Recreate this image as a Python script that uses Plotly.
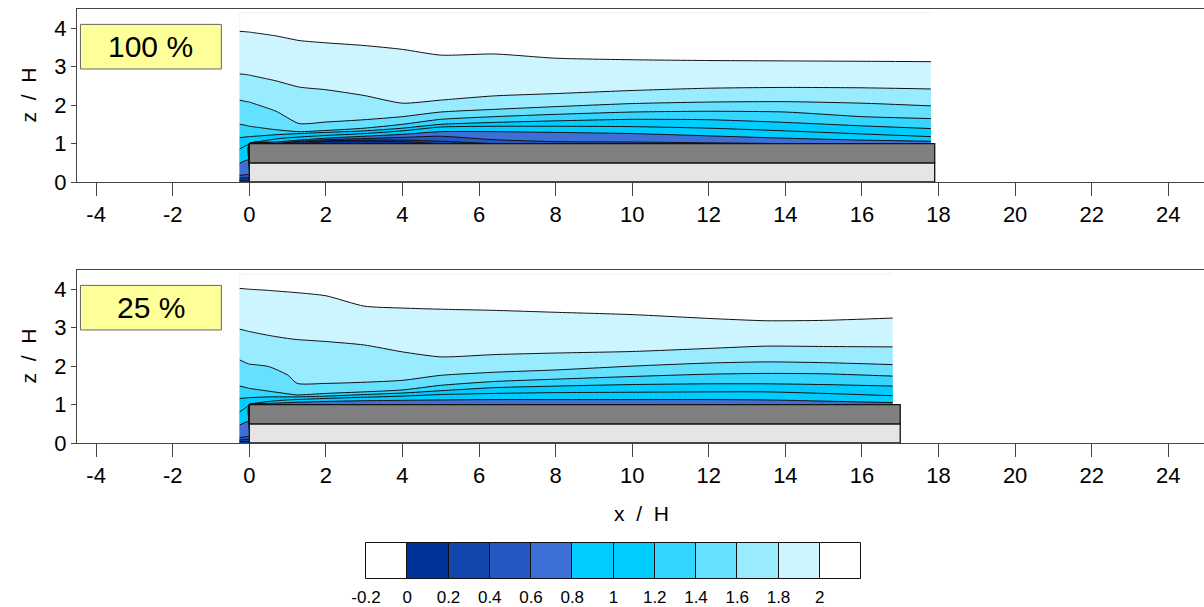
import plotly.graph_objects as go

# ---------------- data ----------------
# contour levels (upper bound of each colour band)
LEVELS = [2.0, 1.8, 1.6, 1.4, 1.2, 1.0, 0.8, 0.6, 0.4, 0.2]
# colour-bar bins (lower edges) and labels
CB_EDGES = [-0.2, 0.0, 0.2, 0.4, 0.6, 0.8, 1.0, 1.2, 1.4, 1.6, 1.8, 2.0, 2.2]
CB_LABELS = ["-0.2", "0", "0.2", "0.4", "0.6", "0.8", "1", "1.2", "1.4", "1.6", "1.8", "2"]

X_TICKS = [-4, -2, 0, 2, 4, 6, 8, 10, 12, 14, 16, 18, 20, 22, 24]
X_TICKTEXT = ["-4", "-2", "0", "2", "4", "6", "8", "10", "12", "14", "16", "18", "20", "22", "24"]
Z_TICKS = [0, 1, 2, 3, 4]

PANEL_LABELS = ["100 %", "25 %"]
BUILDING_LENGTH = [17.9, 17.0]
BUILDING_HEIGHT = 1.0
BASE_HEIGHT = 0.5
DOMAIN_TOP = 4.4

# ---- panel 1 (100 %): heights z/H of each iso-line at the x stations ----
X_100 = [-0.25, -0.12, 0.0, 0.0, 0.7, 1.3, 2.0, 3.0, 4.0, 5.0, 6.4, 8.0, 10.0, 12.0, 14.0, 16.0, 17.8]
Z100_L20 = [3.92, 3.91, 3.90, 3.90, 3.80, 3.68, 3.62, 3.55, 3.45, 3.30, 3.33, 3.22, 3.18, 3.16, 3.15, 3.14, 3.13]
Z100_L18 = [2.81, 2.80, 2.78, 2.78, 2.63, 2.47, 2.40, 2.25, 2.05, 2.13, 2.24, 2.30, 2.38, 2.44, 2.46, 2.45, 2.42]
Z100_L16 = [2.13, 2.10, 2.08, 2.08, 1.84, 1.52, 1.56, 1.62, 1.70, 1.82, 1.89, 1.96, 2.04, 2.08, 2.09, 2.05, 1.98]
Z100_L14 = [1.50, 1.48, 1.45, 1.45, 1.36, 1.31, 1.34, 1.40, 1.50, 1.63, 1.70, 1.76, 1.82, 1.84, 1.82, 1.70, 1.65]
Z100_L12 = [1.15, 1.17, 1.18, 1.18, 1.23, 1.26, 1.29, 1.33, 1.40, 1.50, 1.55, 1.59, 1.63, 1.62, 1.55, 1.46, 1.39]
Z100_L10 = [0.86, 0.93, 0.99, 1.00, 1.12, 1.17, 1.21, 1.26, 1.33, 1.43, 1.45, 1.45, 1.44, 1.40, 1.33, 1.25, 1.18]
Z100_L08 = [0.49, 0.55, 0.60, 1.00, 1.04, 1.09, 1.14, 1.19, 1.24, 1.31, 1.31, 1.29, 1.26, 1.20, 1.14, 1.09, 1.06]
Z100_L06 = [0.17, 0.19, 0.21, 1.00, 1.00, 1.06, 1.10, 1.13, 1.16, 1.19, 1.10, 1.05, 1.04, 1.02, 1.00, 1.00, 1.00]
Z100_L04 = [0.10, 0.11, 0.12, 1.00, 1.00, 1.04, 1.07, 1.09, 1.09, 1.06, 1.00, 1.00, 1.00, 1.00, 1.00, 1.00, 1.00]
Z100_L02 = [0.05, 0.05, 0.06, 1.00, 1.00, 1.00, 1.05, 1.07, 1.05, 1.00, 1.00, 1.00, 1.00, 1.00, 1.00, 1.00, 1.00]

# ---- panel 2 (25 %) ----
X_25 = [-0.25, -0.12, 0.0, 0.0, 0.5, 1.0, 1.25, 2.0, 3.0, 4.0, 5.0, 6.4, 8.0, 10.0, 12.0, 13.5, 15.0, 16.8]
Z25_L20 = [4.02, 4.01, 4.00, 4.00, 3.97, 3.93, 3.91, 3.83, 3.56, 3.51, 3.48, 3.45, 3.40, 3.34, 3.24, 3.18, 3.19, 3.25]
Z25_L18 = [2.96, 2.93, 2.90, 2.90, 2.80, 2.72, 2.69, 2.64, 2.55, 2.37, 2.24, 2.30, 2.34, 2.38, 2.46, 2.52, 2.51, 2.50]
Z25_L16 = [2.16, 2.10, 2.05, 2.05, 1.99, 1.77, 1.55, 1.55, 1.58, 1.63, 1.76, 1.84, 1.90, 2.00, 2.08, 2.11, 2.09, 2.04]
Z25_L14 = [1.48, 1.45, 1.42, 1.42, 1.35, 1.28, 1.25, 1.29, 1.33, 1.38, 1.50, 1.60, 1.66, 1.73, 1.79, 1.81, 1.80, 1.74]
Z25_L12 = [1.16, 1.17, 1.18, 1.18, 1.20, 1.20, 1.20, 1.22, 1.26, 1.30, 1.36, 1.44, 1.48, 1.52, 1.54, 1.54, 1.52, 1.48]
Z25_L10 = [0.81, 0.90, 0.99, 1.00, 1.08, 1.12, 1.13, 1.16, 1.19, 1.22, 1.26, 1.29, 1.31, 1.32, 1.33, 1.33, 1.29, 1.23]
Z25_L08 = [0.47, 0.53, 0.58, 1.00, 1.03, 1.05, 1.06, 1.08, 1.10, 1.11, 1.12, 1.13, 1.13, 1.13, 1.13, 1.12, 1.09, 1.05]
Z25_L06 = [0.14, 0.16, 0.18, 1.00, 1.00, 1.00, 1.00, 1.00, 1.00, 1.00, 1.00, 1.00, 1.00, 1.00, 1.00, 1.00, 1.00, 1.00]
Z25_L04 = [0.08, 0.09, 0.10, 1.00, 1.00, 1.00, 1.00, 1.00, 1.00, 1.00, 1.00, 1.00, 1.00, 1.00, 1.00, 1.00, 1.00, 1.00]
Z25_L02 = [0.04, 0.04, 0.05, 1.00, 1.00, 1.00, 1.00, 1.00, 1.00, 1.00, 1.00, 1.00, 1.00, 1.00, 1.00, 1.00, 1.00, 1.00]

# ---------------- styles ----------------
BAND_COLORS = ["#CCF5FF", "#99EBFF", "#66E0FF", "#33D6FF", "#00CCFF",
               "#00CCFF", "#3D70D6", "#2458C0", "#1447AD", "#003399"]
CB_COLORS = ["#FFFFFF", "#003399", "#1447AD", "#2458C0", "#3D70D6", "#00CCFF",
             "#00CCFF", "#33D6FF", "#66E0FF", "#99EBFF", "#CCF5FF", "#FFFFFF"]
FONT = "Liberation Sans, Arial, sans-serif"
NB = "\u00a0"
W, H = 1204, 607
ML = 77
SMOOTH = 0.6


def py(px):  # pixel row -> paper fraction
    return 1 - px / H


def pxx(px):  # pixel column -> paper fraction
    return (px - ML) / (W - ML)


panels = [
    dict(x=X_100, lines=[Z100_L20, Z100_L18, Z100_L16, Z100_L14, Z100_L12,
                         Z100_L10, Z100_L08, Z100_L06, Z100_L04, Z100_L02],
         dom=[py(182), py(9)], xa="x", ya="y"),
    dict(x=X_25, lines=[Z25_L20, Z25_L18, Z25_L16, Z25_L14, Z25_L12,
                        Z25_L10, Z25_L08, Z25_L06, Z25_L04, Z25_L02],
         dom=[py(443), py(270)], xa="x2", ya="y2"),
]

fig = go.Figure()
shapes = []
annotations = []

for i, p in enumerate(panels):
    xs = p["x"]
    # faint outline (left and top) of the measurement domain
    fig.add_trace(go.Scatter(
        x=[xs[0], xs[0], xs[-1]], y=[0, DOMAIN_TOP, DOMAIN_TOP], mode="lines",
        line=dict(color="#E4F6FB", width=1), xaxis=p["xa"], yaxis=p["ya"],
        hoverinfo="skip", showlegend=False))
    # filled bands, painted from the highest level down
    for lev, zs, col in zip(LEVELS, p["lines"], BAND_COLORS):
        fig.add_trace(go.Scatter(
            x=xs, y=zs, fill="tozeroy", fillcolor=col, mode="lines",
            line=dict(width=0, shape="spline", smoothing=SMOOTH),
            xaxis=p["xa"], yaxis=p["ya"], hoverinfo="skip", showlegend=False))
    # iso-lines
    for lev, zs in zip(LEVELS, p["lines"]):
        fig.add_trace(go.Scatter(
            x=xs, y=zs, mode="lines",
            line=dict(color="#111111", width=1, shape="spline", smoothing=SMOOTH),
            xaxis=p["xa"], yaxis=p["ya"], hoverinfo="skip", showlegend=False))
    # building
    L = BUILDING_LENGTH[i]
    shapes.append(dict(type="rect", xref=p["xa"], yref=p["ya"], x0=0, x1=L, y0=0,
                       y1=BASE_HEIGHT, fillcolor="#E5E5E5",
                       line=dict(color="#111111", width=1.3), layer="above"))
    shapes.append(dict(type="rect", xref=p["xa"], yref=p["ya"], x0=0, x1=L,
                       y0=BASE_HEIGHT, y1=BUILDING_HEIGHT, fillcolor="#808080",
                       line=dict(color="#111111", width=1.3), layer="above"))
    # label box
    shapes.append(dict(type="rect", xref=p["xa"], yref=p["ya"], x0=-4.41, x1=-0.73,
                       y0=2.94, y1=4.10, fillcolor="#FFFF99",
                       line=dict(color="#666666", width=1), layer="above"))
    annotations.append(dict(xref=p["xa"], yref=p["ya"], x=-2.57, y=3.52,
                            xanchor="center", yanchor="middle",
                            text=PANEL_LABELS[i], showarrow=False,
                            font=dict(family=FONT, size=30, color="#000000")))
    annotations.append(dict(xref="paper", yref="paper", x=pxx(28),
                            y=(p["dom"][0] + p["dom"][1]) / 2,
                            xanchor="center", yanchor="middle",
                            text="z" + NB * 2 + "/" + NB * 2 + "H",
                            textangle=-90, showarrow=False,
                            font=dict(family=FONT, size=21, color="#000000")))

# colour bar drawn as a row of bins
cb_x = [(a + b) / 2 for a, b in zip(CB_EDGES[:-1], CB_EDGES[1:])]
cb_w = [b - a for a, b in zip(CB_EDGES[:-1], CB_EDGES[1:])]
fig.add_trace(go.Bar(x=cb_x, y=[1] * len(cb_x), width=cb_w, base=0,
                     marker=dict(color=CB_COLORS, line=dict(color="#111111", width=1)),
                     xaxis="x3", yaxis="y3", hoverinfo="skip", showlegend=False))

annotations.append(dict(xref="paper", yref="paper", x=pxx(641), y=py(513),
                        xanchor="center", yanchor="middle",
                        text="x" + NB * 2 + "/" + NB * 2 + "H", showarrow=False,
                        font=dict(family=FONT, size=21, color="#000000")))

xcommon = dict(range=[-4.5, -4.5 + (W - ML) / 38.29], tickvals=X_TICKS,
               ticktext=X_TICKTEXT, automargin=False,
               ticks="outside", ticklen=13, tickcolor="#444444", tickwidth=1,
               showline=True, linecolor="#444444", linewidth=1, mirror=True,
               showgrid=False, zeroline=False,
               tickfont=dict(family=FONT, size=22, color="#000000"))
ycommon = dict(range=[0, 4.5], tickvals=Z_TICKS, ticks="outside", ticklen=5,
               automargin=False,
               tickcolor="#444444", showline=True, linecolor="#444444", linewidth=1,
               showgrid=False, zeroline=False,
               tickfont=dict(family=FONT, size=22, color="#000000"))

# colour-bar axes padded by 2 px so the outer outline is not clipped
cb_px_per_unit = (861 - 366) / (CB_EDGES[-1] - CB_EDGES[0])
cb_pad = 2 / cb_px_per_unit
ypad = 2 / (579 - 543)

fig.update_layout(
    width=W, height=H, margin=dict(l=ML, r=0, t=0, b=0, autoexpand=False),
    paper_bgcolor="white", plot_bgcolor="white", bargap=0,
    xaxis=dict(domain=[0, 1], anchor="y", **xcommon),
    yaxis=dict(domain=panels[0]["dom"], anchor="x", **ycommon),
    xaxis2=dict(domain=[0, 1], anchor="y2", **xcommon),
    yaxis2=dict(domain=panels[1]["dom"], anchor="x2", **ycommon),
    xaxis3=dict(domain=[pxx(364), pxx(863)], anchor="y3",
                range=[CB_EDGES[0] - cb_pad, CB_EDGES[-1] + cb_pad],
                tickvals=CB_EDGES[:-1], ticktext=CB_LABELS, ticks="", showline=False,
                showgrid=False, zeroline=False, automargin=False, ticklabelstandoff=4,
                tickfont=dict(family=FONT, size=17, color="#000000")),
    yaxis3=dict(domain=[py(581), py(541)], anchor="x3", range=[-ypad, 1 + ypad],
                visible=False),
    shapes=shapes, annotations=annotations,
)

fig.write_html("out.html")
